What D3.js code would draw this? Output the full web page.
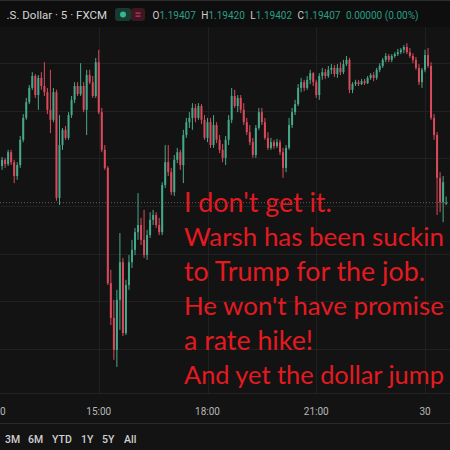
<!DOCTYPE html>
<html><head><meta charset="utf-8">
<script src="https://cdn.jsdelivr.net/npm/d3@7"></script>
<style>html,body{margin:0;padding:0;background:#131313;}svg{display:block;}</style>
</head><body>
<svg id="c" width="450" height="450"></svg>
<script>
// 5-minute EUR/USD candles starting 29 Jan 12:20
const startTime = new Date(2026, 0, 29, 12, 20);
const open = [1.19484,1.19497,1.19488,1.19513,1.19492,1.19463,1.19486,1.19539,1.19585,1.19618,1.19648,1.19673,1.19633,1.19669,1.19652,1.19639,1.19602,1.19581,1.19639,1.19417,1.19528,1.19560,1.19543,1.19591,1.19623,1.19652,1.19635,1.19652,1.19602,1.19675,1.19660,1.19631,1.19702,1.19597,1.19518,1.19480,1.19238,1.19165,1.19098,1.19203,1.19282,1.19133,1.19234,1.19282,1.19308,1.19345,1.19360,1.19329,1.19297,1.19339,1.19371,1.19381,1.19360,1.19345,1.19444,1.19492,1.19471,1.19429,1.19497,1.19513,1.19486,1.19549,1.19576,1.19585,1.19606,1.19585,1.19610,1.19581,1.19543,1.19576,1.19528,1.19570,1.19539,1.19518,1.19501,1.19539,1.19581,1.19631,1.19610,1.19627,1.19602,1.19576,1.19555,1.19534,1.19507,1.19564,1.19597,1.19576,1.19543,1.19522,1.19534,1.19526,1.19534,1.19513,1.19480,1.19522,1.19570,1.19597,1.19614,1.19648,1.19660,1.19648,1.19665,1.19679,1.19660,1.19633,1.19673,1.19681,1.19673,1.19686,1.19690,1.19677,1.19690,1.19681,1.19698,1.19707,1.19644,1.19656,1.19660,1.19656,1.19662,1.19658,1.19669,1.19675,1.19669,1.19686,1.19694,1.19707,1.19715,1.19707,1.19715,1.19719,1.19723,1.19728,1.19734,1.19723,1.19715,1.19707,1.19690,1.19660,1.19686,1.19717,1.19694,1.19585,1.19549,1.19459,1.19408,1.19407];
const high = [1.19503,1.19501,1.19518,1.19518,1.19497,1.19492,1.19547,1.19593,1.19627,1.19654,1.19681,1.19677,1.19675,1.19681,1.19702,1.19648,1.19686,1.19648,1.19644,1.19591,1.19564,1.19568,1.19597,1.19631,1.19660,1.19660,1.19700,1.19660,1.19686,1.19686,1.19673,1.19711,1.19728,1.19606,1.19528,1.19484,1.19266,1.19203,1.19224,1.19343,1.19291,1.19245,1.19297,1.19329,1.19354,1.19427,1.19375,1.19392,1.19350,1.19387,1.19392,1.19387,1.19375,1.19450,1.19528,1.19528,1.19480,1.19507,1.19522,1.19518,1.19560,1.19585,1.19597,1.19616,1.19614,1.19616,1.19614,1.19591,1.19585,1.19585,1.19591,1.19576,1.19549,1.19530,1.19547,1.19591,1.19648,1.19644,1.19633,1.19633,1.19616,1.19585,1.19570,1.19543,1.19570,1.19606,1.19606,1.19585,1.19555,1.19543,1.19539,1.19541,1.19539,1.19522,1.19528,1.19585,1.19606,1.19623,1.19656,1.19669,1.19665,1.19673,1.19686,1.19681,1.19665,1.19679,1.19690,1.19688,1.19694,1.19698,1.19696,1.19698,1.19702,1.19707,1.19715,1.19711,1.19660,1.19665,1.19665,1.19667,1.19667,1.19673,1.19679,1.19681,1.19690,1.19700,1.19711,1.19721,1.19719,1.19719,1.19723,1.19730,1.19732,1.19738,1.19742,1.19732,1.19721,1.19713,1.19698,1.19690,1.19728,1.19732,1.19702,1.19593,1.19555,1.19471,1.19463,1.19420];
const low = [1.19476,1.19480,1.19484,1.19486,1.19448,1.19455,1.19480,1.19534,1.19581,1.19614,1.19644,1.19627,1.19602,1.19644,1.19631,1.19593,1.19553,1.19576,1.19411,1.19402,1.19518,1.19539,1.19539,1.19585,1.19616,1.19631,1.19631,1.19597,1.19549,1.19656,1.19627,1.19627,1.19593,1.19513,1.19476,1.19234,1.19150,1.19077,1.19062,1.19140,1.19127,1.19129,1.19224,1.19270,1.19297,1.19329,1.19318,1.19291,1.19287,1.19333,1.19360,1.19354,1.19339,1.19339,1.19438,1.19463,1.19423,1.19421,1.19490,1.19476,1.19448,1.19543,1.19564,1.19560,1.19576,1.19581,1.19572,1.19539,1.19534,1.19522,1.19522,1.19532,1.19511,1.19492,1.19486,1.19528,1.19574,1.19606,1.19597,1.19595,1.19570,1.19549,1.19528,1.19501,1.19501,1.19560,1.19570,1.19539,1.19518,1.19518,1.19520,1.19522,1.19507,1.19459,1.19471,1.19518,1.19564,1.19591,1.19610,1.19639,1.19641,1.19644,1.19656,1.19652,1.19627,1.19623,1.19665,1.19667,1.19669,1.19677,1.19671,1.19669,1.19675,1.19677,1.19694,1.19637,1.19637,1.19652,1.19652,1.19654,1.19654,1.19656,1.19665,1.19662,1.19665,1.19681,1.19690,1.19702,1.19702,1.19702,1.19711,1.19715,1.19719,1.19721,1.19719,1.19711,1.19700,1.19686,1.19654,1.19648,1.19681,1.19690,1.19581,1.19539,1.19381,1.19387,1.19366,1.19402];
const close = [1.19497,1.19488,1.19513,1.19492,1.19463,1.19486,1.19539,1.19585,1.19618,1.19648,1.19673,1.19633,1.19669,1.19652,1.19639,1.19602,1.19581,1.19639,1.19417,1.19528,1.19560,1.19543,1.19591,1.19623,1.19652,1.19635,1.19652,1.19602,1.19675,1.19660,1.19631,1.19702,1.19597,1.19518,1.19480,1.19238,1.19165,1.19098,1.19203,1.19282,1.19133,1.19234,1.19282,1.19308,1.19345,1.19360,1.19329,1.19297,1.19339,1.19371,1.19381,1.19360,1.19345,1.19444,1.19492,1.19471,1.19429,1.19497,1.19513,1.19486,1.19549,1.19576,1.19585,1.19606,1.19585,1.19610,1.19581,1.19543,1.19576,1.19528,1.19570,1.19539,1.19518,1.19501,1.19539,1.19581,1.19631,1.19610,1.19627,1.19602,1.19576,1.19555,1.19534,1.19507,1.19564,1.19597,1.19576,1.19543,1.19522,1.19534,1.19526,1.19534,1.19513,1.19480,1.19522,1.19570,1.19597,1.19614,1.19648,1.19660,1.19648,1.19665,1.19679,1.19660,1.19633,1.19673,1.19681,1.19673,1.19686,1.19690,1.19677,1.19690,1.19681,1.19698,1.19707,1.19644,1.19656,1.19660,1.19656,1.19662,1.19658,1.19669,1.19675,1.19669,1.19686,1.19694,1.19707,1.19715,1.19707,1.19715,1.19719,1.19723,1.19728,1.19734,1.19723,1.19715,1.19707,1.19690,1.19660,1.19686,1.19717,1.19694,1.19585,1.19549,1.19459,1.19408,1.19450,1.19407];
const priceGrid = [1.1910,1.1920,1.1930,1.1940,1.1950,1.1960,1.1970];
const lastPrice = 1.19407;
const timeTicks = [new Date(2026,0,29,12,0), new Date(2026,0,29,15,0), new Date(2026,0,29,18,0), new Date(2026,0,29,21,0), new Date(2026,0,30,0,0)];
const timeTickLabels = ["0","15:00","18:00","21:00","30"];
const noteLines = ["I don't get it.","Warsh has been suckin","to Trump for the job.","He won't have promise","a rate hike!","And yet the dollar jump"];
const headerTitle = ".S. Dollar · 5 · FXCM";
const ohlcLabels = ["O","H","L","C"];
const ohlcValues = ["1.19407","1.19420","1.19402","1.19407"];
const changeText = "0.00000 (0.00%)";
const rangeButtons = ["3M","6M","YTD","1Y","5Y","All"];

const svg = d3.select("#c");
const W = 450, H = 450;
const paneTop = 27, paneBottom = 393;
const x = d3.scaleTime().domain([new Date(2026,0,29,12,0), new Date(2026,0,30,0,0)]).range([-10, 425]);
const y = d3.scaleLinear().domain([1.1910, 1.1970]).range([348.86, 63.14]);
const data = open.map((o, i) => ({t: new Date(startTime.getTime() + i*300000), o, h: high[i], l: low[i], c: close[i]}));

svg.append("rect").attr("width", W).attr("height", H).attr("fill", "#131313");
svg.append("rect").attr("width", W).attr("height", paneTop).attr("fill", "#0e0e0e");
svg.append("rect").attr("width", W).attr("height", 1).attr("fill", "#2c2c2c");

const defs = svg.append("defs");
defs.append("clipPath").attr("id", "pane").append("rect").attr("x", 0).attr("y", paneTop).attr("width", W).attr("height", paneBottom - paneTop);

const pane = svg.append("g").attr("clip-path", "url(#pane)");
pane.selectAll("line.hg").data(priceGrid).join("line").attr("class","hg")
  .attr("x1", 0).attr("x2", W).attr("y1", d => Math.round(y(d)) + 0.5).attr("y2", d => Math.round(y(d)) + 0.5)
  .attr("stroke", "#202020").attr("stroke-width", 1);
pane.selectAll("line.vg").data(timeTicks).join("line").attr("class","vg")
  .attr("y1", paneTop).attr("y2", paneBottom).attr("x1", d => Math.round(x(d)) + 0.5).attr("x2", d => Math.round(x(d)) + 0.5)
  .attr("stroke", "#202020").attr("stroke-width", 1);
pane.append("line").attr("x1", 0).attr("x2", W).attr("y1", y(lastPrice)).attr("y2", y(lastPrice))
  .attr("stroke", "#5e5e5e").attr("stroke-width", 1).attr("stroke-dasharray", "1,2");

const green = "#46a88a", red = "#d94a5b";
const cg = pane.append("g");
cg.selectAll("rect.w").data(data).join("rect").attr("class","w")
  .attr("x", d => x(d.t) - 0.5).attr("width", 1)
  .attr("y", d => y(d.h)).attr("height", d => Math.max(1, y(d.l) - y(d.h)))
  .attr("fill", d => d.c >= d.o ? green : red);
cg.selectAll("rect.b").data(data).join("rect").attr("class","b")
  .attr("x", d => x(d.t) - 1).attr("width", 2)
  .attr("y", d => y(Math.max(d.o, d.c))).attr("height", d => Math.max(1, Math.abs(y(d.o) - y(d.c))))
  .attr("fill", d => d.c >= d.o ? green : red);

const noteX = 184, noteSize = 26.8;
svg.append("g").selectAll("text").data(noteLines).join("text")
  .attr("x", noteX).attr("y", (d, i) => 212 + i * 34.4)
  .attr("font-family", "Lato, 'Open Sans', sans-serif").attr("font-size", noteSize)
  .attr("fill", "#e31a20").text(d => d)
  .each(function() {
    const w = this.getComputedTextLength();
    const maxW = W - 6 - noteX;
    if (w > maxW) d3.select(this).attr("font-size", noteSize * maxW / w);
  });

// axis borders
svg.append("rect").attr("x", 0).attr("y", paneBottom).attr("width", W).attr("height", 1).attr("fill", "#242424");
svg.append("rect").attr("x", 0).attr("y", 423).attr("width", W).attr("height", 1).attr("fill", "#2a2a2a");

svg.append("g").selectAll("text").data(timeTicks).join("text")
  .attr("x", (d, i) => i === 0 ? 0 : x(d)).attr("y", 415)
  .attr("text-anchor", (d, i) => i === 0 ? "start" : "middle")
  .attr("font-family", "Roboto, sans-serif").attr("font-size", 10).attr("fill", "#b8b8b8")
  .text((d, i) => timeTickLabels[i]);

// header
svg.append("text").attr("x", 107).attr("y", 19).attr("text-anchor", "end")
  .attr("font-family", "Roboto, sans-serif").attr("font-size", 11.5).attr("fill", "#d6d6d6").text(headerTitle);
svg.append("rect").attr("x", 115).attr("y", 8).attr("width", 16).attr("height", 13).attr("rx", 3).attr("fill", "#173a31");
svg.append("circle").attr("cx", 123).attr("cy", 14.5).attr("r", 3).attr("fill", "#35b592");
svg.append("rect").attr("x", 131).attr("y", 8).attr("width", 14).attr("height", 13).attr("rx", 3).attr("fill", "#3d1722");
svg.append("rect").attr("x", 135.5).attr("y", 12.5).attr("width", 5).attr("height", 1.2).attr("fill", "#d43a5a");
svg.append("rect").attr("x", 135.5).attr("y", 15.5).attr("width", 5).attr("height", 1.2).attr("fill", "#d43a5a");

const ohlc = svg.append("text").attr("x", 152.5).attr("y", 18.5)
  .attr("font-family", "Roboto, sans-serif").attr("font-size", 10);
ohlcLabels.forEach((lab, i) => {
  ohlc.append("tspan").attr("fill", "#cfcfcf").attr("dx", i === 0 ? 0 : 5.5).text(lab);
  ohlc.append("tspan").attr("fill", "#2a9f83").text(ohlcValues[i]);
});
ohlc.append("tspan").attr("fill", "#2a9f83").attr("dx", 5.5).text(changeText);

// range buttons
const btnX = [5, 28, 52, 81, 102, 124];
svg.append("g").selectAll("text").data(rangeButtons).join("text")
  .attr("x", (d, i) => btnX[i]).attr("y", 443)
  .attr("font-family", "Roboto, sans-serif").attr("font-size", 10.5).attr("font-weight", 500)
  .attr("fill", "#d0d0d0").text(d => d);
</script>
</body></html>
